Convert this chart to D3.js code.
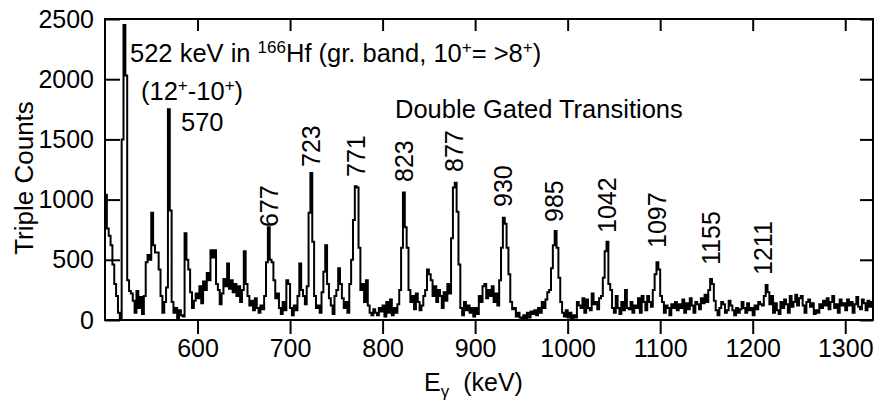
<!DOCTYPE html>
<html><head><meta charset="utf-8">
<script src="https://cdn.jsdelivr.net/npm/d3@7"></script>
<style>
body{margin:0;background:#fff}
svg text{font-family:"Liberation Sans",Arial,Helvetica,sans-serif;fill:#000}
</style>
</head><body>
<svg id="c" width="875" height="400"></svg>
<script>
// ---- data ----
const binStart = 500;   // keV, first bin edge
const binWidth = 2;     // keV per channel
const counts = [
  1040, 760, 700, 620, 460, 300, 200, 60, 0, 1500, 2450, 2030, 330, 240, 220, 160, 60, 240, 100, 190, 50, 200, 480, 540, 500,
  890, 620, 560, 560, 420, 200, 60, 150, 270, 1750, 910, 150, 60, 100, 0, 80, 40, 30, 720, 500, 420, 230, 100, 160, 220,
  180, 280, 140, 320, 250, 390, 330, 580, 520, 580, 300, 250, 130, 220, 340, 280, 470, 260, 330, 230, 300, 200, 280, 150, 250,
  570, 300, 200, 120, 160, 80, 180, 100, 60, 120, 90, 200, 480, 770, 500, 480, 330, 180, 220, 100, 50, 150, 80, 330, 300,
  100, 40, 120, 80, 200, 470, 250, 200, 130, 280, 890, 1220, 650, 200, 100, 120, 60, 230, 400, 620, 300, 180, 120, 50, 200,
  250, 430, 300, 180, 100, 150, 60, 300, 500, 830, 1110, 1100, 600, 250, 300, 150, 330, 120, 60, 40, 90, 60, 40, 100, 70,
  120, 30, 150, 60, 170, 40, 100, 60, 130, 250, 600, 1060, 770, 600, 250, 150, 200, 90, 220, 150, 80, 120, 200, 250, 420,
  380, 330, 200, 280, 150, 250, 200, 100, 230, 160, 300, 220, 680, 1100, 1140, 900, 460, 100, 40, 150, 80, 120, 60, 100, 30,
  100, 50, 200, 150, 280, 300, 180, 250, 200, 280, 150, 220, 120, 330, 600, 850, 800, 600, 380, 150, 90, 100, 30, 60, 20,
  0, 40, 10, 60, 20, 70, 50, 80, 40, 100, 60, 150, 100, 170, 230, 250, 430, 620, 740, 600, 350, 150, 60, 30, 80,
  20, 60, 0, 40, 20, 150, 120, 100, 180, 60, 170, 100, 80, 220, 130, 150, 90, 180, 200, 350, 570, 650, 300, 250, 100,
  60, 200, 100, 50, 150, 80, 250, 100, 90, 150, 60, 120, 100, 180, 60, 200, 150, 80, 200, 150, 110, 250, 380, 480, 420,
  200, 150, 60, 120, 100, 40, 130, 100, 150, 80, 130, 100, 170, 60, 140, 90, 180, 120, 60, 150, 130, 90, 180, 140, 210,
  150, 250, 340, 300, 160, 80, 40, 100, 150, 130, 60, 80, 160, 120, 80, 40, 100, 60, 90, 150, 100, 60, 140, 80, 100,
  40, 120, 90, 150, 130, 120, 200, 290, 230, 130, 200, 60, 140, 80, 50, 150, 100, 170, 130, 60, 200, 110, 150, 210, 120,
  180, 200, 120, 60, 150, 170, 110, 140, 50, 80, 60, 130, 100, 160, 120, 180, 90, 150, 200, 100, 130, 60, 170, 120, 140,
  80, 170, 120, 150, 60, 130, 190, 110, 90, 170, 140, 80, 160, 110, 150
];
const xTicks = [600, 700, 800, 900, 1000, 1100, 1200, 1300];
const yTicks = [0, 500, 1000, 1500, 2000, 2500];
const peakLabels = ["677", "723", "771", "823", "877", "930", "985", "1042", "1097", "1155", "1211"];
const peakEnergies = [677, 723, 771, 823, 877, 930, 985, 1042, 1097, 1155, 1211];
const peakLabelCounts = [772, 1271, 1188, 1146, 1229, 939, 814, 723, 598, 457, 374];
const xTitle = "E", xTitleSub = "γ", xTitleUnit = "(keV)";
const yTitle = "Triple Counts";

// ---- layout ----
const svg = d3.select("#c");
const L = 105, R = 873, T = 19, B = 320;
const x = d3.scaleLinear().domain([500, 1330]).range([L, R]);
const y = d3.scaleLinear().domain([0, 2500]).range([B, T]);

svg.append("defs").append("clipPath").attr("id", "clip")
  .append("rect").attr("x", L).attr("y", T).attr("width", R - L).attr("height", B - T);

// spectrum as step histogram
const pts = counts.map((c, i) => [binStart + i * binWidth, c]);
pts.push([binStart + counts.length * binWidth, counts[counts.length - 1]]);
const line = d3.line().x(d => x(d[0])).y(d => y(d[1])).curve(d3.curveStepAfter);
svg.append("path").attr("clip-path", "url(#clip)")
  .attr("d", line(pts)).attr("fill", "none").attr("stroke", "#000")
  .attr("stroke-width", 2).attr("stroke-linejoin", "miter");

// axes
const fs = 25, fa = 25.5;
const gB = svg.append("g").attr("transform", `translate(0,${B})`)
  .call(d3.axisBottom(x).tickValues(xTicks).tickSize(14).tickPadding(5).tickFormat(d3.format("d")));
const gT = svg.append("g").attr("transform", `translate(0,${T})`)
  .call(d3.axisTop(x).tickValues(xTicks).tickSize(-12).tickFormat(""));
const gL = svg.append("g").attr("transform", `translate(${L},0)`)
  .call(d3.axisLeft(y).tickValues(yTicks).tickSize(-15).tickPadding(11).tickFormat(d3.format("d")));
const gR = svg.append("g").attr("transform", `translate(${R},0)`)
  .call(d3.axisRight(y).tickValues(yTicks).tickSize(-13).tickFormat(""));
[gB, gT, gL, gR].forEach(g => {
  g.select(".domain").remove();
  g.selectAll(".tick line").attr("stroke", "#000").attr("stroke-width", 2);
  g.selectAll(".tick text").attr("font-size", fs).attr("font-family", "Liberation Sans, Arial, sans-serif").attr("fill", "#000");
});
svg.append("rect").attr("x", L).attr("y", T).attr("width", R - L).attr("height", B - T)
  .attr("fill", "none").attr("stroke", "#000").attr("stroke-width", 2);

// axis titles
const xt = svg.append("text").attr("x", 424).attr("y", 391).attr("font-size", fs);
xt.append("tspan").text(xTitle);
xt.append("tspan").attr("font-size", 17).attr("dy", 6).text(xTitleSub);
xt.append("tspan").attr("dy", -6).attr("dx", 14).text(xTitleUnit);

svg.append("text").attr("transform", "translate(33,178) rotate(-90)")
  .attr("text-anchor", "middle").attr("font-size", 26).text(yTitle);

// annotations
function supText(xp, yp, parts) {
  const t = svg.append("text").attr("x", xp).attr("y", yp).attr("font-size", fa);
  let up = false;
  parts.forEach(p => {
    if (p.sup) {
      t.append("tspan").attr("font-size", 17).attr("dy", -9).text(p.t);
      up = true;
    } else {
      const s = t.append("tspan").text(p.t);
      if (up) { s.attr("dy", 9); up = false; }
    }
  });
}
supText(130, 62, [{t: "522 keV in "}, {t: "166", sup: true}, {t: "Hf (gr. band, 10"}, {t: "+", sup: true}, {t: "= >8"}, {t: "+", sup: true}, {t: ")"}]);
supText(141, 100, [{t: "(12"}, {t: "+", sup: true}, {t: "-10"}, {t: "+", sup: true}, {t: ")"}]);
svg.append("text").attr("x", 181).attr("y", 131).attr("font-size", fa).text("570");
svg.append("text").attr("x", 395).attr("y", 118).attr("font-size", fa).text("Double Gated Transitions");

svg.selectAll("text.peak").data(peakLabels).enter().append("text").attr("class", "peak")
  .attr("font-size", fs)
  .attr("transform", (d, i) => `translate(${x(peakEnergies[i]) + 9},${y(peakLabelCounts[i])}) rotate(-90)`)
  .text(d => d);
</script>
</body></html>
